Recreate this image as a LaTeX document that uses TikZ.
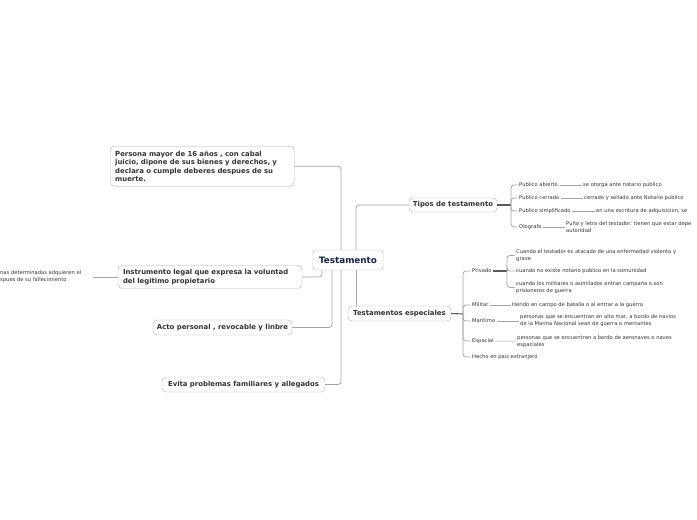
\documentclass[tikz,border=0pt]{standalone}
\usepackage{fontspec}
\setmainfont{DejaVu Sans}
\usepackage{xcolor}
\usepackage{tikz}
\definecolor{lineagris}{RGB}{165,165,165}
\definecolor{bordegris}{RGB}{175,175,175}
\definecolor{textogris}{RGB}{51,51,51}
\definecolor{azulraiz}{RGB}{22,34,68}

\begin{document}
\begin{tikzpicture}[
      x=1pt, y=-1pt,
      every node/.style = {text=textogris},
      raiz/.style = {draw=bordegris, fill=white, rounded corners=3pt,
                     font=\bfseries\fontsize{8.8}{10}\selectfont, text=azulraiz,
                     minimum width=70pt, minimum height=20pt, inner sep=0pt},
      tema/.style = {draw=bordegris, fill=white, rounded corners=4pt,
                     font=\bfseries\fontsize{6.9}{8.5}\selectfont, inner sep=0pt},
      hoja/.style = {font=\fontsize{5.2}{7}\selectfont, inner sep=1.5pt,
                     align=left, anchor=west},
      conn/.style = {draw=lineagris, rounded corners=3pt, line width=0.8pt},
      fino/.style = {draw=lineagris, line width=0.5pt},
      tronco/.style = {draw=gray!70!black, line width=1.1pt}
    ]
    \useasboundingbox (0,0) rectangle (697,520);
    \fill[white] (0,0) rectangle (697,520);

    % centro
    \node[raiz] (testamento) at (348,260) {Testamento};

    % lado izquierdo
    \node[tema, anchor=north west, text width=174pt, inner xsep=5pt,
          minimum height=40pt, align=left] (persona) at (110,146)
      {Persona mayor de 16 años , con cabal\\juicio, dipone de sus bienes y derechos, y\\declara o cumple deberes despues de su\\muerte.};
    \node[tema, text width=174pt, inner xsep=5pt, minimum height=23pt,
          align=left] (instrumento) at (210,277)
      {Instrumento legal que expresa la voluntad\\del legitimo propietario};
    \node[tema, minimum width=139pt, minimum height=15pt] (acto) at (222.5,327.5)
      {Acto personal , revocable y linbre};
    \node[tema, minimum width=163pt, minimum height=15pt] (evita) at (243.5,384.5)
      {Evita problemas familiares  y allegados};
    \node[hoja] (herencia) at (-1.5,277)
      {nas  determinadas adquieren el\\spues de su fallecimiento};

    % lado derecho
    \node[tema, minimum width=88pt, minimum height=14pt] (tipos) at (453,205)
      {Tipos de testamento};
    \node[tema, minimum width=103pt, minimum height=15pt] (especiales) at (399.5,313.5)
      {Testamentos especiales};

    % tipos de testamento
    \node[hoja] (pabierto) at (517.5,185) {Publico abierto};
    \node[hoja] (pcerrado) at (517.5,198) {Publico cerrado};
    \node[hoja] (psimple)  at (517.5,211) {Publico simplificado};
    \node[hoja] (olografo) at (517.5,227) {Olografo};
    \node[hoja] (pabiertoD) at (581.5,185) {se otorga ante notario publico};
    \node[hoja] (pcerradoD) at (582.5,198) {cerrado y sellado ante Notario publico};
    \node[hoja] (psimpleD)  at (594.5,211) {en una escritura de adquisicion,  se};
    \node[hoja] (olografoD) at (564.5,227) {Puño y letra del testador.  tienen que estar depe\\autoridad};

    % testamentos especiales
    \node[hoja] (privado)  at (470.5,271) {Privado};
    \node[hoja] (militar)  at (470.5,305) {Militar};
    \node[hoja] (maritimo) at (470.5,321) {Maritimo};
    \node[hoja] (espacial) at (470.5,341) {Espacial};
    \node[hoja] (hecho)    at (470.5,357) {Hecho en pais extranjero};
    \node[hoja] (enfermo)  at (514.5,255.5) {Cuando el testador es atacado de una enfermedad violenta  y\\grave};
    \node[hoja] (sinnotario) at (514.5,271) {cuando no existe notario publico en la comunidad};
    \node[hoja] (campana)  at (514.5,287.5) {cuando los militares o asimilados entran campaña o son\\prisioneros de guerra};
    \node[hoja] (militarD)  at (510.5,305) {Herido en campo de batalla o al entrar a la guerra};
    \node[hoja] (maritimoD) at (518.5,321) {personas que se encuentran en alta mar,  a bordo de  navios\\de la Marina Nacional sean de guerra o mercantes};
    \node[hoja] (espacialD) at (515.5,341.5) {personas que se encuentran a bordo de aeronaves  o naves\\espaciales};

    \coordinate (tiposJ)  at (511,205);
    \coordinate (especJ)  at (463,314);
    \coordinate (privJ)   at (507,271);

    % conectores del centro
    \draw[conn] (persona.east) -| ([xshift=-7pt]testamento.north);
    \draw[conn] (evita.east)   -| ([xshift=-7pt]testamento.south);
    \draw[conn] (instrumento.east) -| ([xshift=-26pt]testamento.south);
    \draw[conn] (acto.east)    -| ([xshift=-16pt]testamento.south);
    \draw[conn] ([xshift=8pt]testamento.north) |- (tipos.west);
    \draw[conn] ([xshift=8pt]testamento.south) -- ([xshift=8pt]testamento.south |- especiales.north);
    \draw[fino] ([xshift=10pt]herencia.east) -- (instrumento.west);

    % ramas de tipos
    \draw[tronco] (tipos.east) -- (tiposJ);
    \foreach \hijo in {pabierto, pcerrado, psimple, olografo}
      \draw[conn] (tiposJ) |- (\hijo.west);
    \draw[fino] (pabierto) -- (pabiertoD);
    \draw[fino] (pcerrado) -- (pcerradoD);
    \draw[fino] (psimple)  -- (psimpleD);
    \draw[fino] (olografo) -- (olografoD);

    % ramas de especiales
    \draw[tronco] (especiales.east) -- (especJ);
    \foreach \hijo in {privado, militar, maritimo, espacial, hecho}
      \draw[conn] (especJ) |- (\hijo.west);
    \draw[tronco] (privado.east) -- (privJ);
    \foreach \hijo in {enfermo, sinnotario, campana}
      \draw[conn] (privJ) |- (\hijo.west);
    \draw[fino] (militar)  -- (militarD);
    \draw[fino] (maritimo) -- (maritimoD);
    \draw[fino] (espacial) -- (espacialD);
  \end{tikzpicture}
\end{document}
